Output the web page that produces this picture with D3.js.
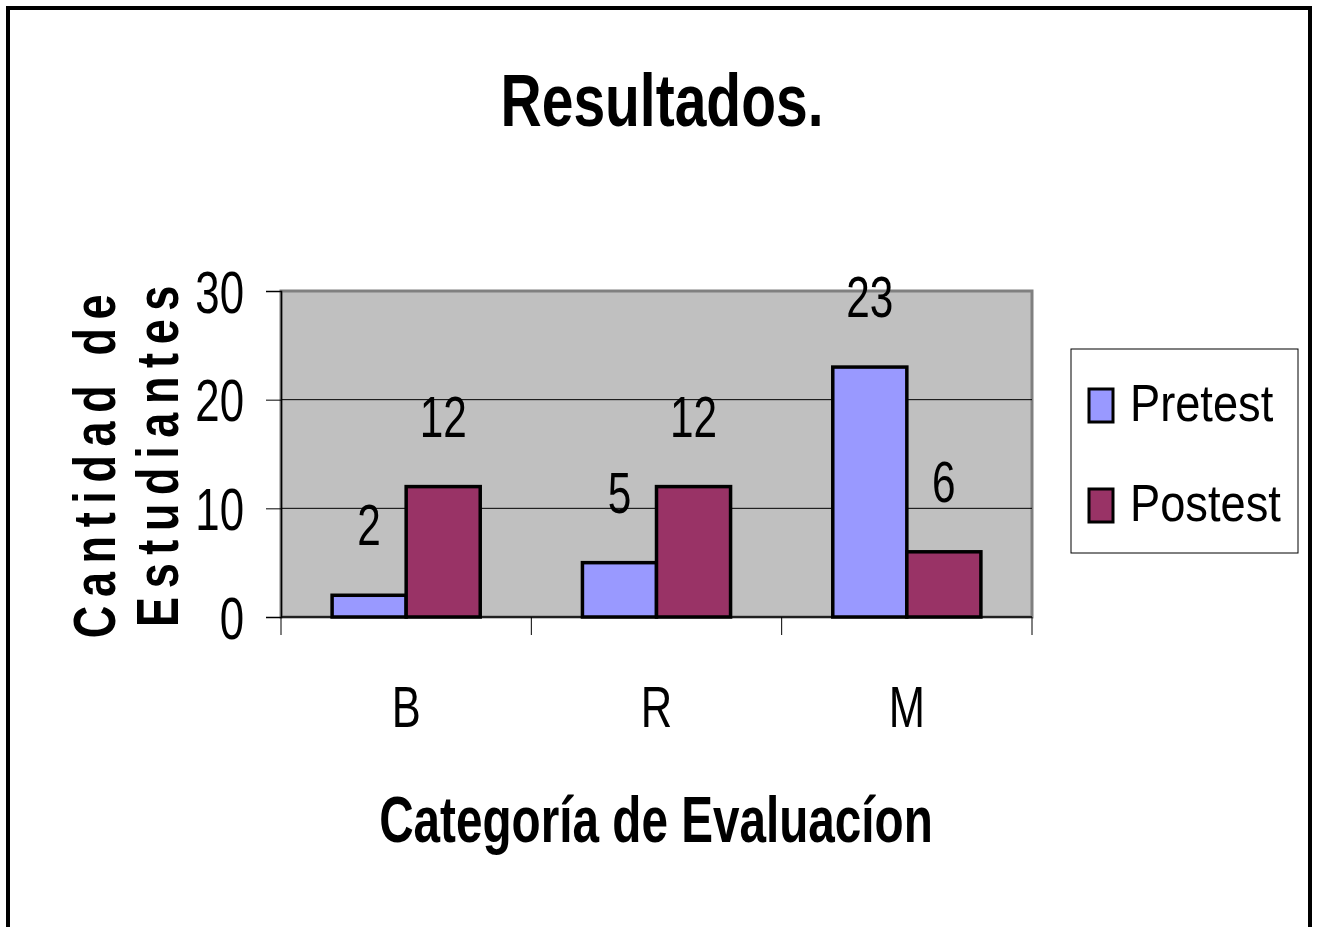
<!DOCTYPE html>
<html><head><meta charset="utf-8">
<script src="https://cdn.jsdelivr.net/npm/d3@7"></script>
<style>body{margin:0;background:#fff}svg{display:block}</style>
</head><body>
<script>
const categories = ["B", "R", "M"];
const seriesNames = ["Pretest", "Postest"];
const pretest = [2, 5, 23];
const postest = [12, 12, 6];
const yTicks = [0, 10, 20, 30];
const colors = ["#9999FF", "#993366"];

const W = 1319, H = 927;
const FONT = "'Liberation Sans',Arial,sans-serif";
const svg = d3.select("body").append("svg").attr("width", W).attr("height", H);

// condensed text helper (Arial Narrow look)
function ntext(sel, xPos, yPos, txt, size, sx, anchor, weight) {
  return sel.append("text")
    .attr("transform", `translate(${xPos},${yPos}) scale(${sx},1)`)
    .attr("text-anchor", anchor || "middle")
    .attr("font-family", FONT).attr("font-size", size)
    .attr("font-weight", weight || "normal").attr("fill", "#000").text(txt);
}

// outer frame
svg.append("rect").attr("x", 8).attr("y", 8).attr("width", 1302).attr("height", 940)
  .attr("fill", "#fff").attr("stroke", "#000").attr("stroke-width", 4);

const plot = {x0: 281, x1: 1032, y0: 291, y1: 617};
const x = d3.scaleBand().domain(categories).range([plot.x0, plot.x1]);
const xs = d3.scaleBand().domain(seriesNames).range([0, x.bandwidth()]).paddingInner(0).paddingOuter(0.69);
const y = d3.scaleLinear().domain([0, 30]).range([plot.y1, plot.y0]);

// plot background
svg.append("rect").attr("x", plot.x0).attr("y", plot.y0).attr("width", plot.x1 - plot.x0).attr("height", plot.y1 - plot.y0)
  .attr("fill", "#C0C0C0").attr("stroke", "#808080").attr("stroke-width", 3);

// gridlines
svg.append("g").selectAll("line").data(yTicks.filter(d => d > 0 && d < 30)).join("line")
  .attr("x1", plot.x0).attr("x2", plot.x1).attr("y1", d => y(d)).attr("y2", d => y(d))
  .attr("stroke", "#000").attr("stroke-width", 1);

// y axis
const yAxis = d3.axisLeft(y).tickValues(yTicks).tickSize(15).tickPadding(22);
const gy = svg.append("g").attr("transform", `translate(${plot.x0},0)`).call(yAxis);
gy.select(".domain").attr("stroke", "#000").attr("stroke-width", 1.5);
gy.selectAll(".tick line").attr("stroke", "#000");
gy.selectAll(".tick text").each(function () {
  const t = d3.select(this);
  const tx = +t.attr("x");
  t.attr("x", 0).attr("dy", null).attr("transform", `translate(${tx},21) scale(0.73,1)`)
    .attr("font-family", FONT).attr("font-size", 60).attr("fill", "#000");
});

// x axis
const gx = svg.append("g").attr("transform", `translate(0,${plot.y1})`);
gx.append("line").attr("x1", plot.x0).attr("x2", plot.x1).attr("stroke", "#000").attr("stroke-width", 1.5);
const bounds = categories.map(c => x(c)).concat([plot.x1]);
gx.selectAll("line.tk").data(bounds).join("line").attr("class", "tk")
  .attr("x1", d => d).attr("x2", d => d).attr("y1", 0).attr("y2", 18).attr("stroke", "#000");
categories.forEach(c => ntext(gx, x(c) + x.bandwidth() / 2, 110, c, 58, 0.75));

// bars
const data = categories.map((c, i) => ({c, vals: [pretest[i], postest[i]]}));
const groups = svg.append("g").selectAll("g").data(data).join("g")
  .attr("transform", d => `translate(${x(d.c)},0)`);
groups.selectAll("rect").data(d => d.vals.map((v, j) => ({v, s: seriesNames[j], j}))).join("rect")
  .attr("x", d => xs(d.s)).attr("width", xs.bandwidth())
  .attr("y", d => y(d.v)).attr("height", d => y(0) - y(d.v))
  .attr("fill", d => colors[d.j]).attr("stroke", "#000").attr("stroke-width", 3.5);
groups.each(function (d) {
  const g = d3.select(this);
  d.vals.forEach((v, j) => ntext(g, xs(seriesNames[j]) + xs.bandwidth() / 2, y(v) - 50, v, 58, 0.73));
});

// title
ntext(svg, 662, 126, "Resultados.", 74, 0.77, "middle", "bold");

// x axis title
ntext(svg, 656, 842, "Categoría de Evaluacíon", 64, 0.745, "middle", "bold");

// y axis title
const ylab = [["Cantidad de", 115, 462], ["Estudiantes", 178, 452]];
ylab.forEach(([txt, bx, cy]) => {
  svg.append("text")
    .attr("transform", `translate(${bx},${cy}) rotate(-90) scale(0.75,1)`)
    .attr("text-anchor", "middle").attr("font-family", FONT).attr("font-weight", "bold")
    .attr("font-size", 60).attr("letter-spacing", 11.5).text(txt);
});

// legend
const lg = svg.append("g");
lg.append("rect").attr("x", 1071).attr("y", 349).attr("width", 227).attr("height", 204)
  .attr("fill", "#fff").attr("stroke", "#000").attr("stroke-width", 1);
seriesNames.forEach((s, i) => {
  const it = lg.append("g").attr("transform", `translate(1089,${389 + i * 100})`);
  it.append("rect").attr("width", 24).attr("height", 33)
    .attr("fill", colors[i]).attr("stroke", "#000").attr("stroke-width", 3);
  ntext(it, 41, 32, s, 52, 0.87, "start");
});
</script>
</body></html>
